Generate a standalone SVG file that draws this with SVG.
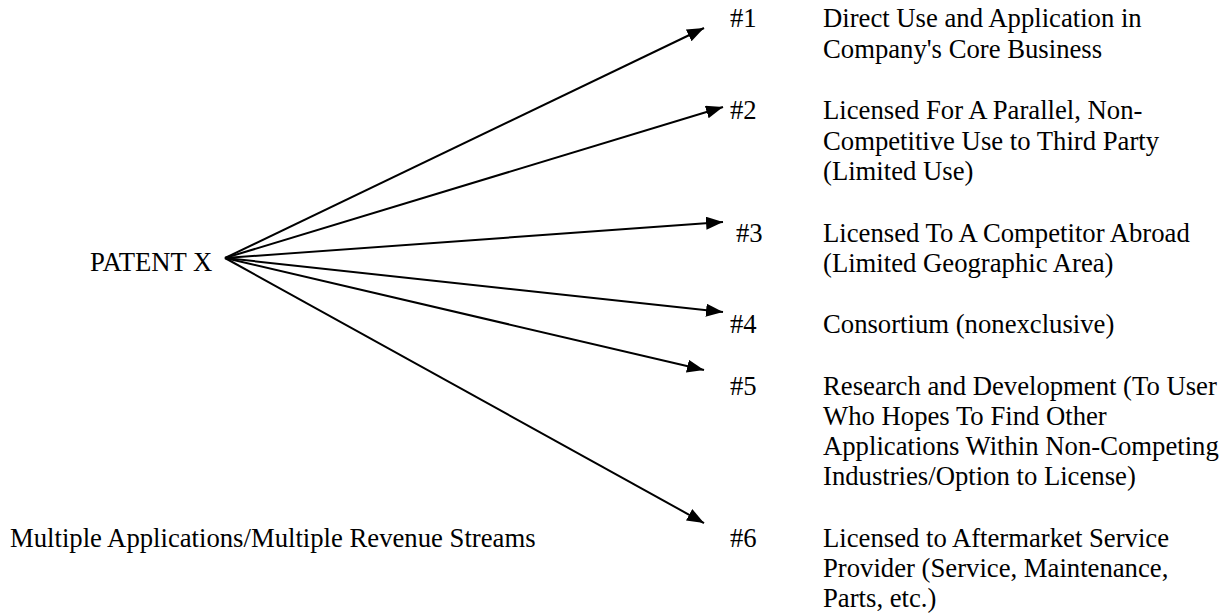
<svg xmlns="http://www.w3.org/2000/svg" width="1226" height="613" viewBox="0 0 1226 613">
<defs>
<style>
text{font-family:"Liberation Serif","Times New Roman",serif;font-size:26.7px;fill:#000}
.c line{stroke:#000;stroke-width:2;fill:none}
</style>
<marker id="ah" markerUnits="userSpaceOnUse" markerWidth="18" markerHeight="14" refX="17" refY="6.5" orient="auto">
<path d="M0,0 L17,6.5 L0,13 z" fill="#000"/>
</marker>
</defs>
<rect width="1226" height="613" fill="#fff"/>
<g id="connectors" class="c">
<line x1="225" y1="258" x2="704" y2="28" marker-end="url(#ah)"/>
<line x1="225" y1="258" x2="723" y2="107" marker-end="url(#ah)"/>
<line x1="225" y1="258" x2="723" y2="222" marker-end="url(#ah)"/>
<line x1="225" y1="258" x2="723" y2="312" marker-end="url(#ah)"/>
<line x1="225" y1="258" x2="704" y2="370" marker-end="url(#ah)"/>
<line x1="225" y1="258" x2="704" y2="523" marker-end="url(#ah)"/>
</g>
<g id="patent"><text x="90" y="271">PATENT X</text></g>
<g id="caption"><text x="10" y="547">Multiple Applications/Multiple Revenue Streams</text></g>
<g id="n1"><text x="730" y="27">#1</text>
<text x="823" y="27">Direct Use and Application in</text>
<text x="823" y="58">Company's Core Business</text></g>
<g id="n2"><text x="730" y="119">#2</text>
<text x="823" y="119">Licensed For A Parallel, Non-</text>
<text x="823" y="150">Competitive Use to Third Party</text>
<text x="823" y="180">(Limited Use)</text></g>
<g id="n3"><text x="736" y="242">#3</text>
<text x="823" y="242">Licensed To A Competitor Abroad</text>
<text x="823" y="272">(Limited Geographic Area)</text></g>
<g id="n4"><text x="730" y="333">#4</text>
<text x="823" y="333">Consortium (nonexclusive)</text></g>
<g id="n5"><text x="730" y="395">#5</text>
<text x="823" y="395">Research and Development (To User</text>
<text x="823" y="425">Who Hopes To Find Other</text>
<text x="823" y="455">Applications Within Non-Competing</text>
<text x="823" y="485">Industries/Option to License)</text></g>
<g id="n6"><text x="730" y="547">#6</text>
<text x="823" y="547">Licensed to Aftermarket Service</text>
<text x="823" y="577">Provider (Service, Maintenance,</text>
<text x="823" y="607">Parts, etc.)</text></g>
</svg>
